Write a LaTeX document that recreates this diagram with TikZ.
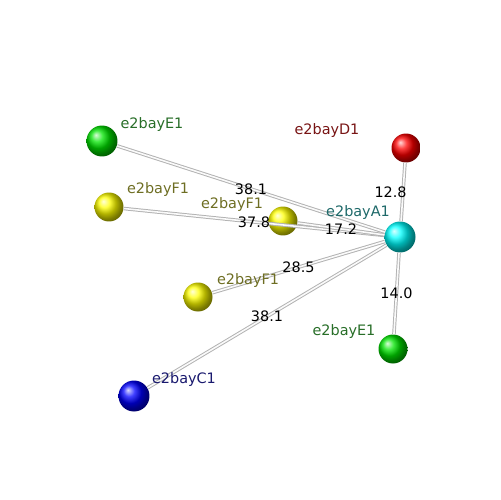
\documentclass[tikz,border=0pt]{standalone}
\usepackage{fontspec}
\setmainfont{DejaVu Sans}
\usetikzlibrary{positioning}
\definecolor{lblgreen}{RGB}{40,110,40}
\definecolor{lblred}{RGB}{120,20,20}
\definecolor{lblolive}{RGB}{110,110,35}
\definecolor{lblteal}{RGB}{30,105,105}
\definecolor{lblblue}{RGB}{25,25,110}
\tikzset{
  sphere/.style={circle, inner sep=0pt, minimum size=0.58cm, shading=ball},
  bond/.style={draw=gray!60, line width=0.55pt, double=white!96!gray, double distance=0.9pt},
  dist/.style={font=\fontsize{8.2}{10}\selectfont, text=black, inner sep=1pt},
  lbl/.style={font=\fontsize{8.2}{10}\selectfont, inner sep=0pt}
}
\begin{document}
\begin{tikzpicture}[x=0.02cm, y=-0.02cm]
\useasboundingbox (0,0) rectangle (500,500);
%spheres
\node[sphere, ball color=cyan, minimum size=0.62cm] (A1) at (400,237) {};
\node[sphere, ball color=red] (D1) at (406,148) {};
\node[sphere, ball color=green!90!black, minimum size=0.62cm] (E1a) at (102,141) {};
\node[sphere, ball color=yellow] (F1a) at (109,207) {};
\node[sphere, ball color=yellow] (F1b) at (283,221) {};
\node[sphere, ball color=yellow] (F1c) at (198,297) {};
\node[sphere, ball color=green!90!black] (E1b) at (393,349) {};
\node[sphere, ball color=blue, minimum size=0.62cm] (C1) at (134,396) {};
%bonds
\draw[bond] (E1a) -- node[dist] {38.1} (A1);
\draw[bond] (F1a) -- node[dist] {37.8} (A1);
\draw[bond] (F1b) -- node[dist] {17.2} (A1);
\draw[bond] (D1) -- node[dist, xshift=-0.25cm] {12.8} (A1);
\draw[bond] (F1c) -- node[dist] {28.5} (A1);
\draw[bond] (A1) -- node[dist] {14.0} (E1b);
\draw[bond] (C1) -- node[dist] {38.1} (A1);
%labels
\node[lbl, text=lblgreen] (tE1a) at (152,125) {e2bayE1};
\node[lbl, text=lblred] (tD1) at (327,131) {e2bayD1};
\node[lbl, text=lblolive] (tF1a) at (158,190) {e2bayF1};
\node[lbl, text=lblolive] (tF1b) at (232,205) {e2bayF1};
\node[lbl, text=lblteal] (tA1) at (358,213) {e2bayA1};
\node[lbl, text=lblolive] (tF1c) at (248,281) {e2bayF1};
\node[lbl, text=lblgreen] (tE1b) at (344,332) {e2bayE1};
\node[lbl, text=lblblue] (tC1) at (184,380) {e2bayC1};
\end{tikzpicture}
\end{document}
